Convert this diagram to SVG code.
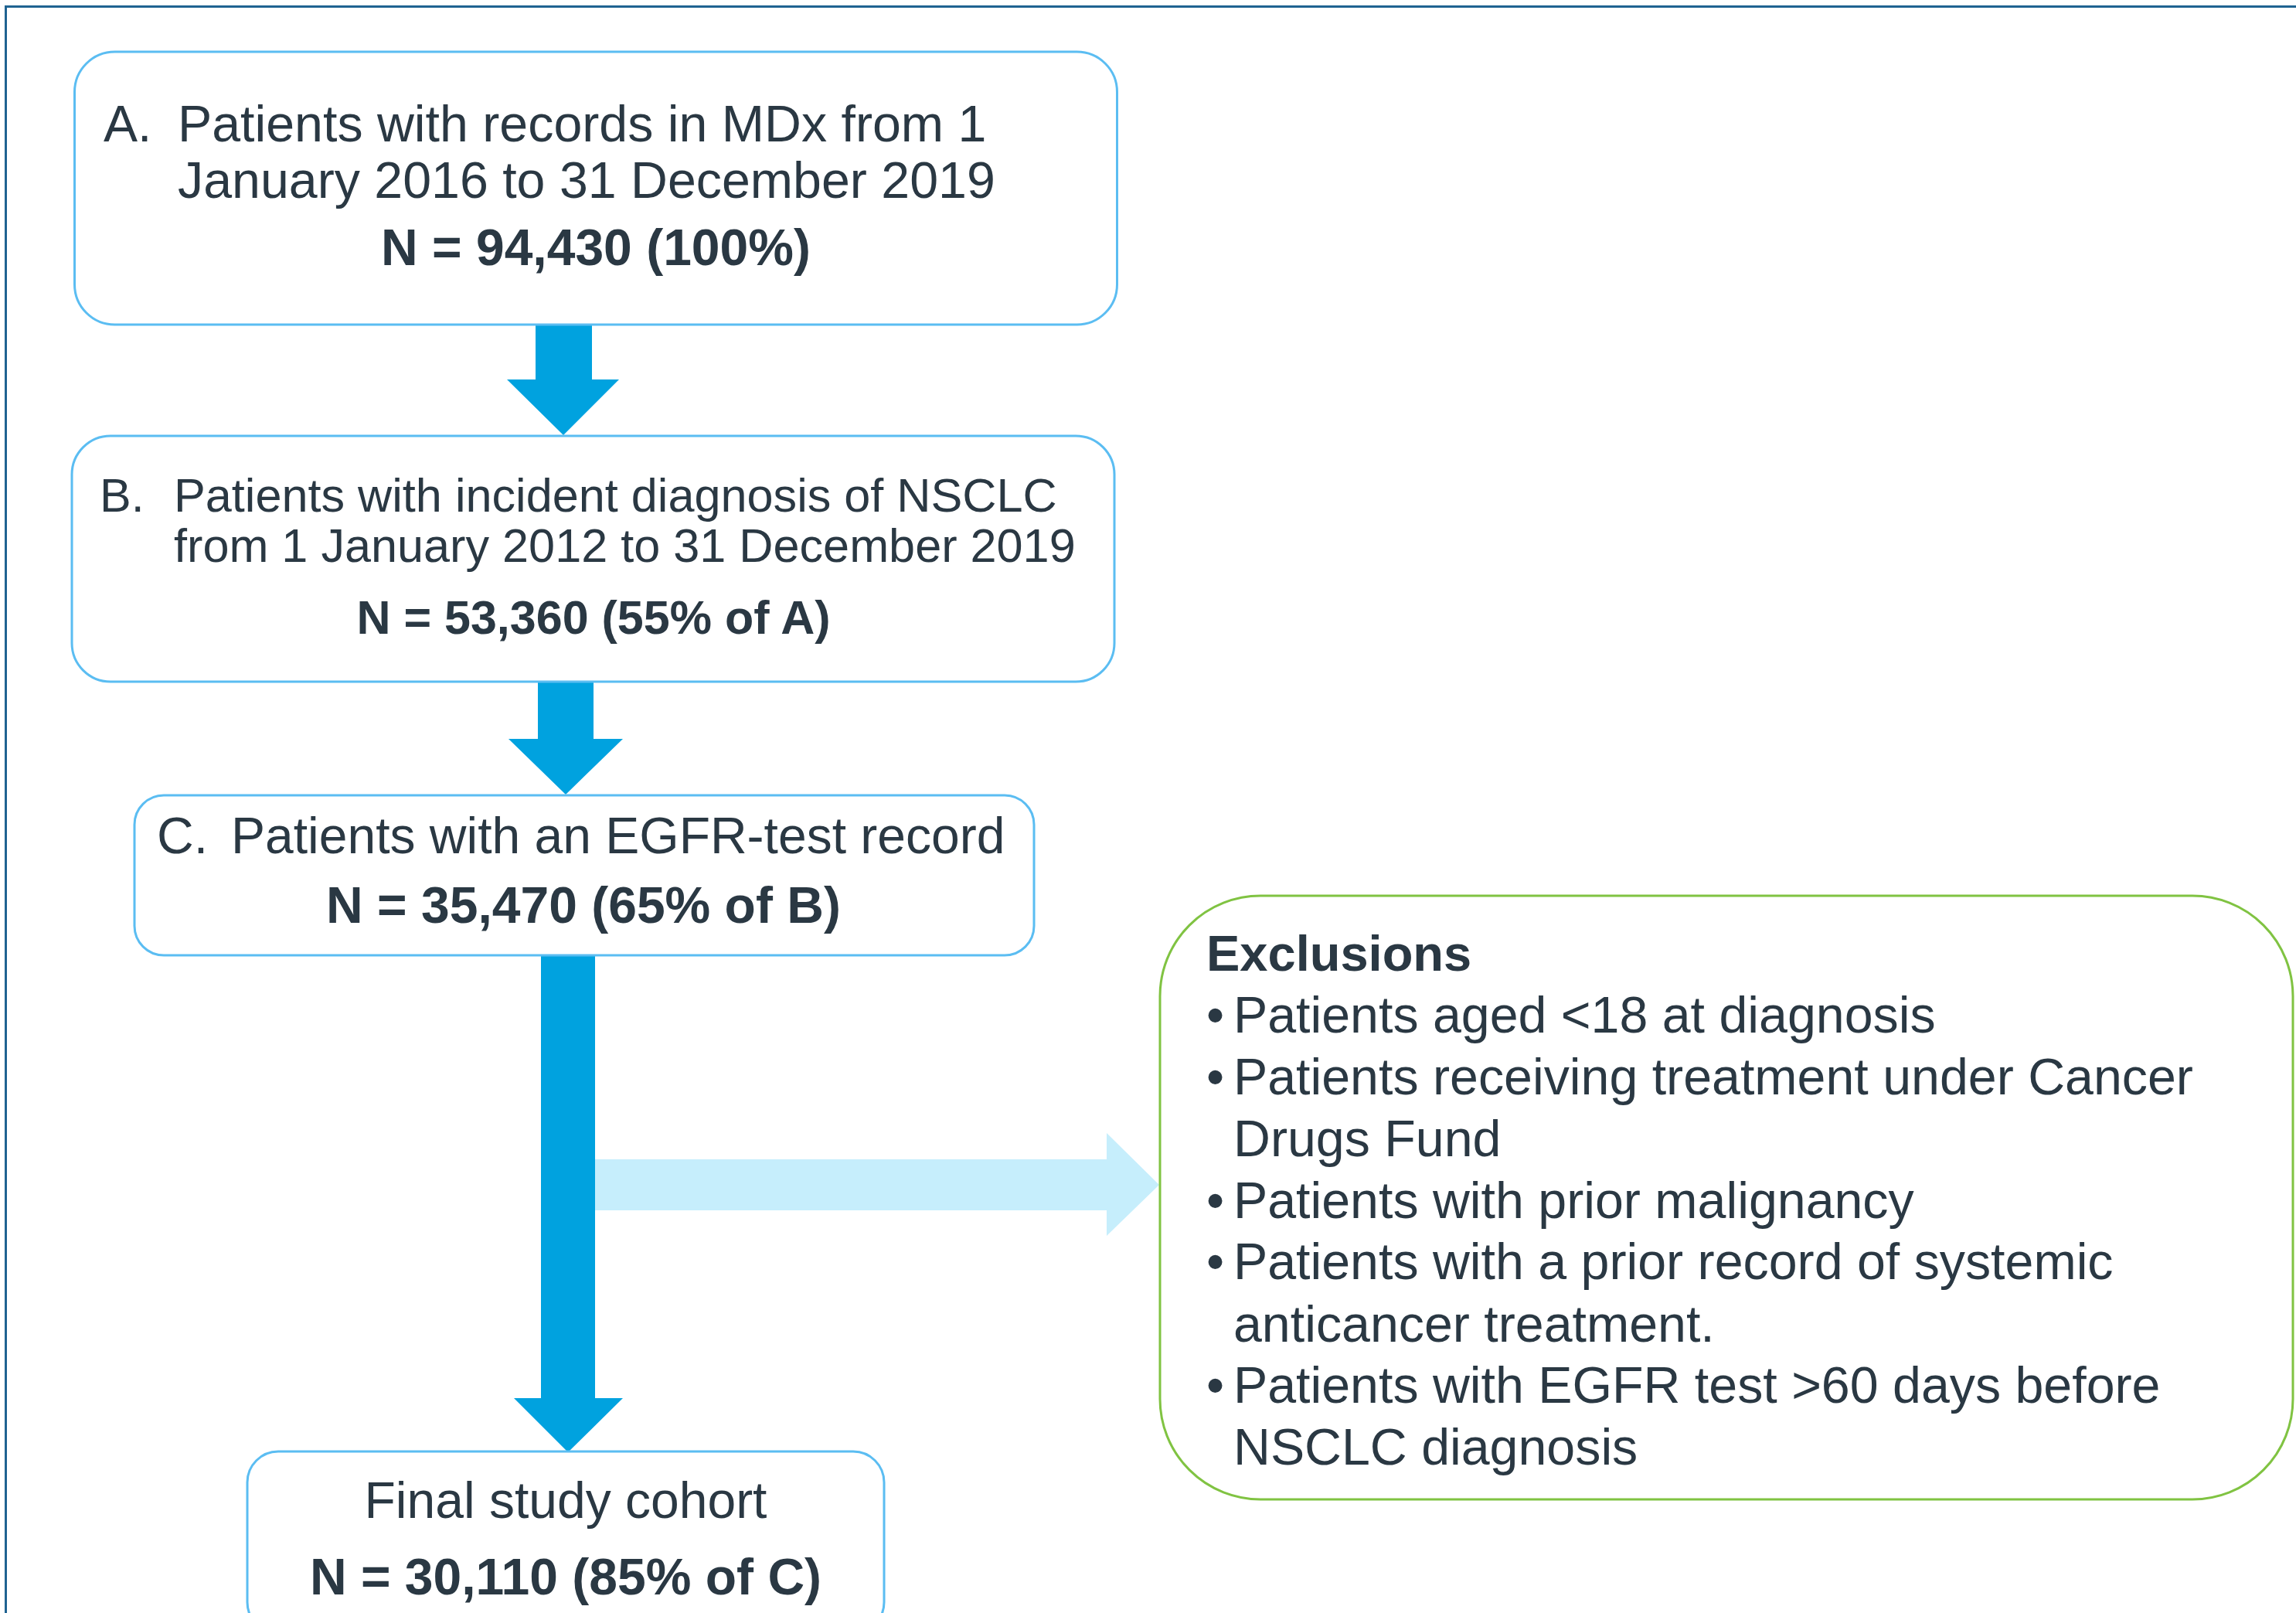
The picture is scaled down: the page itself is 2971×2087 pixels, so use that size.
<svg xmlns="http://www.w3.org/2000/svg" width="2971" height="2087" viewBox="0 0 2971 2087">
<style>
  .box { fill: #ffffff; stroke: #5BBDF2; stroke-width: 3; }
  .excl { fill: #ffffff; stroke: #80C342; stroke-width: 3; }
  text { font-family: "Liberation Sans", Arial, sans-serif; fill: #2A3843; }
  .b { font-weight: bold; }
  .arrow { fill: #00A2DF; }
  .arrow-light { fill: #C6EEFC; }
</style>
<rect x="0" y="0" width="2971" height="2087" fill="#ffffff"/>
<path d="M7.5,2087 V8.5 H2971" fill="none" stroke="#1F6391" stroke-width="3"/>

<g id="connectors">
  <path class="arrow" d="M693,420 H766 V491 H801 L729,563 L656,491 H693 Z"/>
  <path class="arrow" d="M696,883 H768 V956 H806 L732,1028 L658,956 H696 Z"/>
  <path class="arrow" d="M700,1236 H770 V1809 H806 L735,1879 L665,1809 H700 Z"/>
  <path class="arrow-light" d="M770,1500 H1432 V1466 L1500,1533 L1432,1599 V1566 H770 Z"/>
</g>

<g id="nodeA">
  <rect class="box" x="96.5" y="67" width="1349" height="353" rx="52" ry="52"/>
  <text x="134" y="183" font-size="66">A.</text>
  <text x="230" y="183" font-size="66.3">Patients with records in MDx from 1</text>
  <text x="230" y="256" font-size="66.3">January 2016 to 31 December 2019</text>
  <text class="b" x="771" y="343" font-size="66" text-anchor="middle">N = 94,430 (100%)</text>
</g>

<g id="nodeB">
  <rect class="box" x="93" y="564" width="1349" height="318" rx="50" ry="50"/>
  <text x="129" y="662" font-size="61">B.</text>
  <text x="225" y="662" font-size="61.2">Patients with incident diagnosis of NSCLC</text>
  <text x="225" y="727" font-size="61.2">from 1 January 2012 to 31 December 2019</text>
  <text class="b" x="768" y="820" font-size="61" text-anchor="middle">N = 53,360 (55% of A)</text>
</g>

<g id="nodeC">
  <rect class="box" x="174" y="1029" width="1164" height="207" rx="38" ry="38"/>
  <text x="203" y="1104" font-size="66">C.</text>
  <text x="299" y="1104" font-size="66">Patients with an EGFR-test record</text>
  <text class="b" x="755" y="1194" font-size="66" text-anchor="middle">N = 35,470 (65% of B)</text>
</g>

<g id="nodeFinal">
  <rect class="box" x="320" y="1878" width="824" height="235" rx="40" ry="40"/>
  <text x="732" y="1964" font-size="66" text-anchor="middle">Final study cohort</text>
  <text class="b" x="732" y="2063" font-size="66" text-anchor="middle">N = 30,110 (85% of C)</text>
</g>

<g id="nodeExclusions">
  <rect class="excl" x="1501" y="1159" width="1466" height="781" rx="130" ry="130"/>
  <text class="b" x="1561" y="1256" font-size="65">Exclusions</text>
  <text x="1561" y="1336" font-size="66">•</text>
  <text x="1596" y="1336" font-size="66.3">Patients aged &lt;18 at diagnosis</text>
  <text x="1561" y="1416" font-size="66">•</text>
  <text x="1596" y="1416" font-size="66.3">Patients receiving treatment under Cancer</text>
  <text x="1596" y="1496" font-size="66.3">Drugs Fund</text>
  <text x="1561" y="1576" font-size="66">•</text>
  <text x="1596" y="1576" font-size="66.3">Patients with prior malignancy</text>
  <text x="1561" y="1655" font-size="66">•</text>
  <text x="1596" y="1655" font-size="66.3">Patients with a prior record of systemic</text>
  <text x="1596" y="1736" font-size="66.3">anticancer treatment.</text>
  <text x="1561" y="1815" font-size="66">•</text>
  <text x="1596" y="1815" font-size="66.3">Patients with EGFR test &gt;60 days before</text>
  <text x="1596" y="1895" font-size="66.3">NSCLC diagnosis</text>
</g>
</svg>
